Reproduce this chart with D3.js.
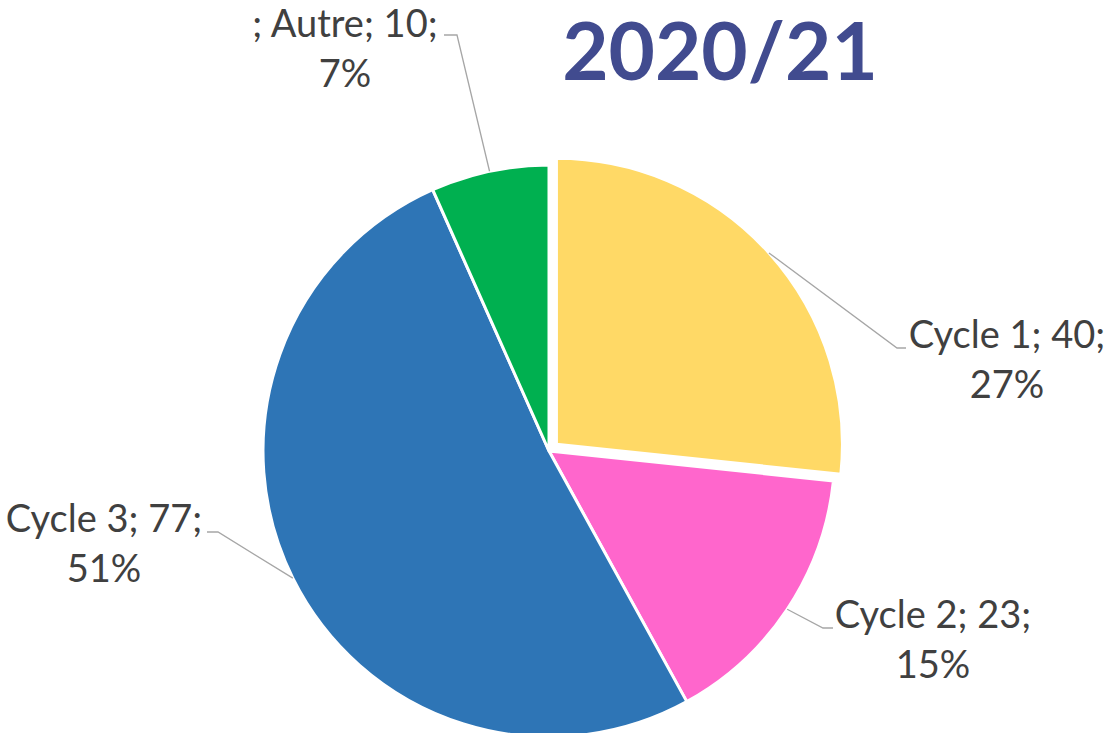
<!DOCTYPE html>
<html><head><meta charset="utf-8">
<script src="https://cdn.jsdelivr.net/npm/d3@7"></script>
<style>html,body{margin:0;padding:0;background:#fff;overflow:hidden}</style>
</head><body>
<svg id="chart" width="1113" height="733"></svg>
<script>
// ---- data ----
const categories = ["Cycle 1", "Cycle 2", "Cycle 3", "Autre"];
const values = [40, 23, 77, 10];
const percentLabels = ["27%", "15%", "51%", "7%"];
const labelPrefixes = ["", "", "", "; "];
const title = "2020/21";

// ---- style / layout ----
const colors = ["#FFD966", "#FF66CC", "#2E75B6", "#00B050"];
const W = 1113, H = 733;
const cx = 549, cy = 451, R = 286;
const explode = [10, 0, 0, 0];
// label layout: text centre x, first baseline y, leader y, elbow x, leader end x
const labelLayout = [
  {tx: 1007, ty: 348, ly: 348, e1: 897, e2: 906},
  {tx: 933, ty: 628, ly: 628, e1: 823, e2: 833},
  {tx: 104, ty: 532, ly: 532, e1: 218, e2: 207},
  {tx: 345, ty: 37, ly: 35, e1: 457, e2: 444}
];
const fontFam = "Lato, 'Open Sans', sans-serif";
const fontSize = 38, lineGap = 50;

const svg = d3.select("#chart");
const pie = d3.pie().sort(null).value(d => d)(values);
const arc = d3.arc().innerRadius(0).outerRadius(R);

const g = svg.append("g").attr("transform", `translate(${cx},${cy})`);

pie.forEach((p, i) => {
  const mid = (p.startAngle + p.endAngle) / 2;
  const ox = explode[i] * Math.sin(mid), oy = -explode[i] * Math.cos(mid);
  g.append("path")
    .attr("d", arc(p))
    .attr("transform", `translate(${ox},${oy})`)
    .attr("fill", colors[i])
    .attr("stroke", "#fff")
    .attr("stroke-width", 3)
    .attr("stroke-linejoin", "round");

  const sx = cx + ox + R * Math.sin(mid), sy = cy + oy - R * Math.cos(mid);
  const L = labelLayout[i];
  svg.append("polyline")
    .attr("points", `${sx},${sy} ${L.e1},${L.ly} ${L.e2},${L.ly}`)
    .attr("fill", "none")
    .attr("stroke", "#A6A6A6")
    .attr("stroke-width", 1.3);

  const t = svg.append("text")
    .attr("x", L.tx).attr("y", L.ty)
    .attr("text-anchor", "middle")
    .attr("font-family", fontFam)
    .attr("font-size", fontSize)
    .attr("fill", "#404040");
  t.append("tspan").attr("x", L.tx).attr("y", L.ty)
    .text(`${labelPrefixes[i]}${categories[i]}; ${values[i]};`);
  t.append("tspan").attr("x", L.tx).attr("y", L.ty + lineGap)
    .text(percentLabels[i]);
});

svg.append("text")
  .attr("x", 720).attr("y", 80)
  .attr("text-anchor", "middle")
  .attr("font-family", fontFam)
  .attr("font-weight", "bold")
  .attr("font-size", 80)
  .attr("fill", "#414B8F")
  .text(title);
</script>
</body></html>
